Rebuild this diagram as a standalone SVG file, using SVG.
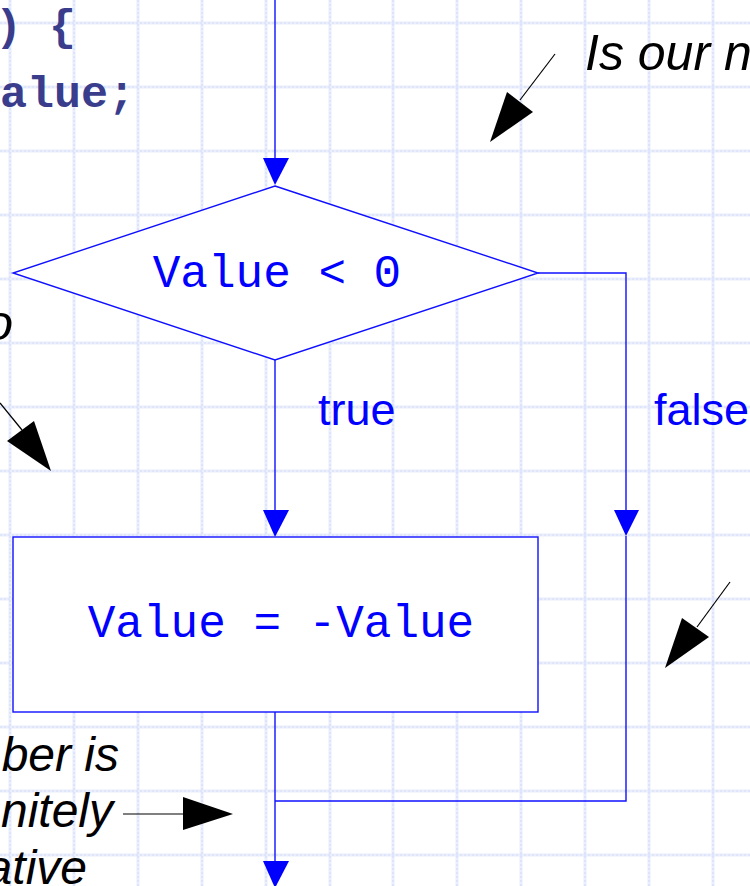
<svg xmlns="http://www.w3.org/2000/svg" width="750" height="886" viewBox="0 0 750 886">
<style>
.grid line{stroke:#eaeefd;stroke-width:3}
.grid2 line{stroke:#d3dcf8;stroke-width:1.2;stroke-dasharray:2 2}
.flow{stroke:#1010ff;stroke-width:1.4;fill:none}
.shape{stroke:#1010ff;stroke-width:1.4;fill:#ffffff}
.mono{font-family:"Liberation Mono","Courier New",monospace;fill:#0000ff;font-size:46px}
.lbl{font-family:"Liberation Sans",Arial,sans-serif;fill:#0000ff;font-size:45px}
.note{font-family:"Liberation Sans",Arial,sans-serif;font-style:italic;fill:#000;font-size:50px}
.note2{font-family:"Liberation Sans",Arial,sans-serif;font-style:italic;fill:#000;font-size:48px}
.code{font-family:"Liberation Mono","Courier New",monospace;font-weight:bold;fill:#3a3d8c;font-size:45px}
.ann{stroke:#000;stroke-width:1.2;fill:none}
</style>
<rect width="750" height="886" fill="#ffffff"/>
<g id="grid">
<g class="grid">
<line x1="10" y1="0" x2="10" y2="886"/><line x1="74" y1="0" x2="74" y2="886"/><line x1="138" y1="0" x2="138" y2="886"/><line x1="202" y1="0" x2="202" y2="886"/><line x1="266" y1="0" x2="266" y2="886"/><line x1="330" y1="0" x2="330" y2="886"/><line x1="393" y1="0" x2="393" y2="886"/><line x1="457" y1="0" x2="457" y2="886"/><line x1="521" y1="0" x2="521" y2="886"/><line x1="585" y1="0" x2="585" y2="886"/><line x1="649" y1="0" x2="649" y2="886"/><line x1="713" y1="0" x2="713" y2="886"/>
<line x1="0" y1="23" x2="750" y2="23"/><line x1="0" y1="87" x2="750" y2="87"/><line x1="0" y1="151" x2="750" y2="151"/><line x1="0" y1="215" x2="750" y2="215"/><line x1="0" y1="279" x2="750" y2="279"/><line x1="0" y1="343" x2="750" y2="343"/><line x1="0" y1="407" x2="750" y2="407"/><line x1="0" y1="471" x2="750" y2="471"/><line x1="0" y1="535" x2="750" y2="535"/><line x1="0" y1="599" x2="750" y2="599"/><line x1="0" y1="663" x2="750" y2="663"/><line x1="0" y1="727" x2="750" y2="727"/><line x1="0" y1="791" x2="750" y2="791"/><line x1="0" y1="855" x2="750" y2="855"/>
</g>
<g class="grid2">
<line x1="10" y1="0" x2="10" y2="886"/><line x1="74" y1="0" x2="74" y2="886"/><line x1="138" y1="0" x2="138" y2="886"/><line x1="202" y1="0" x2="202" y2="886"/><line x1="266" y1="0" x2="266" y2="886"/><line x1="330" y1="0" x2="330" y2="886"/><line x1="393" y1="0" x2="393" y2="886"/><line x1="457" y1="0" x2="457" y2="886"/><line x1="521" y1="0" x2="521" y2="886"/><line x1="585" y1="0" x2="585" y2="886"/><line x1="649" y1="0" x2="649" y2="886"/><line x1="713" y1="0" x2="713" y2="886"/>
<line x1="0" y1="23" x2="750" y2="23"/><line x1="0" y1="87" x2="750" y2="87"/><line x1="0" y1="151" x2="750" y2="151"/><line x1="0" y1="215" x2="750" y2="215"/><line x1="0" y1="279" x2="750" y2="279"/><line x1="0" y1="343" x2="750" y2="343"/><line x1="0" y1="407" x2="750" y2="407"/><line x1="0" y1="471" x2="750" y2="471"/><line x1="0" y1="535" x2="750" y2="535"/><line x1="0" y1="599" x2="750" y2="599"/><line x1="0" y1="663" x2="750" y2="663"/><line x1="0" y1="727" x2="750" y2="727"/><line x1="0" y1="791" x2="750" y2="791"/><line x1="0" y1="855" x2="750" y2="855"/>
</g>
</g>
<g id="code">
<text class="code" x="-5" y="40">) {</text>
<text class="code" x="0" y="107">alue;</text>
</g>
<g id="connectors">
<line class="flow" x1="275" y1="0" x2="275" y2="160"/>
<polygon points="263,158 289,158 275,185" fill="#0000ff"/>
<line class="flow" x1="275" y1="360" x2="275" y2="512"/>
<polygon points="263,510 289,510 275,537" fill="#0000ff"/>
<polyline class="flow" points="538,273 626,273 626,512"/>
<polygon points="614,510 639,510 626,536" fill="#0000ff"/>
<polyline class="flow" points="626,536 626,801 275,801"/>
<line class="flow" x1="275" y1="712" x2="275" y2="862"/>
<polygon points="263,861 289,861 275,888" fill="#0000ff"/>
<text class="lbl" x="318" y="425">true</text>
<text class="lbl" x="654" y="425">false</text>
</g>
<g id="decision">
<polygon class="shape" points="275,186 538,273 275,360 13,273"/>
<text class="mono" x="277" y="287" text-anchor="middle">Value &lt; 0</text>
</g>
<g id="process">
<rect class="shape" x="13" y="537" width="525" height="175"/>
<text class="mono" x="281" y="637" text-anchor="middle">Value = -Value</text>
</g>
<g id="annotations">
<text class="note" x="585" y="70">Is our n</text>
<line class="ann" x1="555" y1="54" x2="520" y2="100"/>
<polygon points="507,92 533,112 490,142" fill="#000"/>
<line class="ann" x1="730" y1="582" x2="697" y2="627"/>
<polygon points="682,618 709,637 665,668" fill="#000"/>
<text class="note" x="13" y="340" text-anchor="end">o</text>
<line class="ann" x1="0" y1="403" x2="22" y2="430"/>
<polygon points="7,441 34,421 51,471" fill="#000"/>
<text class="note2" x="119" y="771" text-anchor="end">ber is</text>
<text class="note2" x="113" y="827" text-anchor="end">nitely</text>
<text class="note2" x="87" y="884" text-anchor="end">ative</text>
<line class="ann" x1="123" y1="814" x2="185" y2="814"/>
<polygon points="183,797 233,814 183,830" fill="#000"/>
</g>
</svg>
